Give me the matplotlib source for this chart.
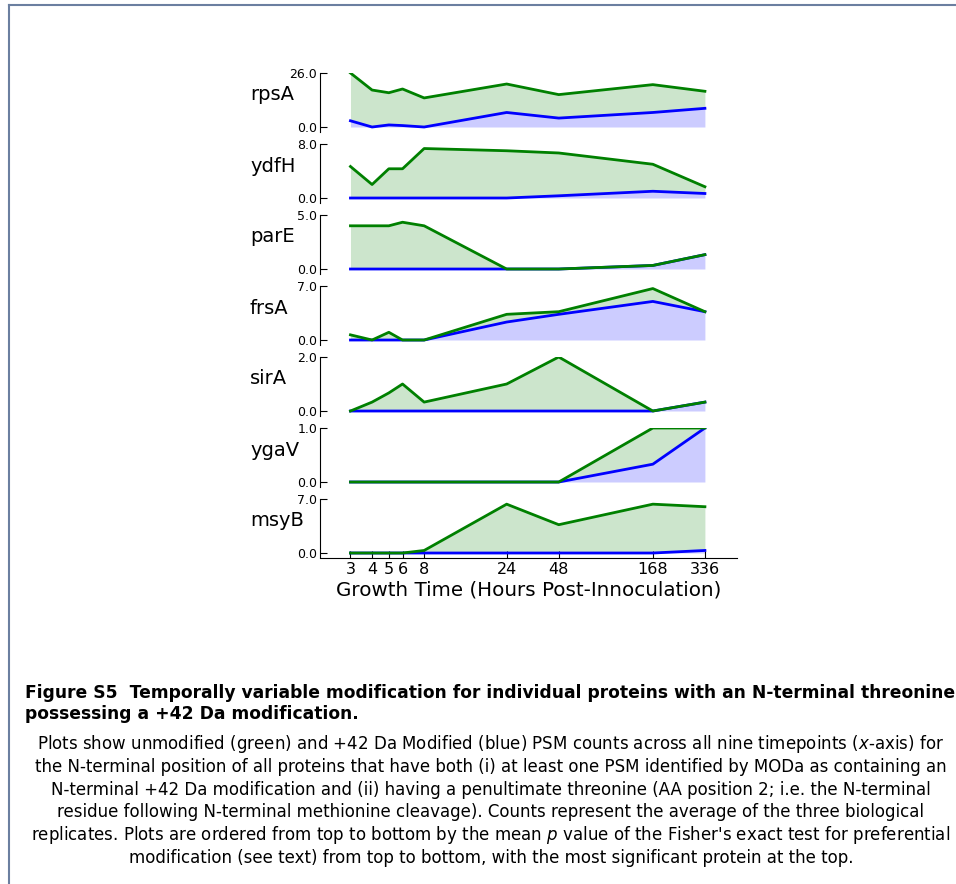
import numpy as np
import matplotlib
matplotlib.use('Agg')
from matplotlib import pyplot as plt
from matplotlib.lines import Line2D

# timepoints (hours post-innoculation)
hours = [3, 4, 5, 6, 8, 24, 48, 168, 336]
hour_labels = ['3', '4', '5', '6', '8', '24', '48', '168', '336']

proteins = ['rpsA', 'ydfH', 'parE', 'frsA', 'sirA', 'ygaV', 'msyB']
y_max = [26.0, 8.0, 5.0, 7.0, 2.0, 1.0, 7.0]

# unmodified (green) PSM counts
unmod_rpsA = [26.0, 17.8, 16.5, 18.3, 14.0, 20.7, 15.6, 20.4, 17.2]
unmod_ydfH = [4.67, 2.0, 4.33, 4.33, 7.33, 7.0, 6.67, 5.0, 1.67]
unmod_parE = [4.0, 4.0, 4.0, 4.33, 4.0, 0.0, 0.0, 0.33, 1.33]
unmod_frsA = [0.67, 0.0, 1.0, 0.0, 0.0, 3.33, 3.67, 6.67, 3.67]
unmod_sirA = [0.0, 0.33, 0.67, 1.0, 0.33, 1.0, 2.0, 0.0, 0.33]
unmod_ygaV = [0.0, 0.0, 0.0, 0.0, 0.0, 0.0, 0.0, 1.0, 1.0]
unmod_msyB = [0.0, 0.0, 0.0, 0.0, 0.33, 6.33, 3.67, 6.33, 6.0]

# +42 Da modified (blue) PSM counts
mod_rpsA = [3.0, 0.0, 1.0, 0.7, 0.0, 7.0, 4.3, 7.0, 9.0]
mod_ydfH = [0.0, 0.0, 0.0, 0.0, 0.0, 0.0, 0.33, 1.0, 0.67]
mod_parE = [0.0, 0.0, 0.0, 0.0, 0.0, 0.0, 0.0, 0.33, 1.33]
mod_frsA = [0.0, 0.0, 0.0, 0.0, 0.0, 2.33, 3.33, 5.0, 3.67]
mod_sirA = [0.0, 0.0, 0.0, 0.0, 0.0, 0.0, 0.0, 0.0, 0.33]
mod_ygaV = [0.0, 0.0, 0.0, 0.0, 0.0, 0.0, 0.0, 0.33, 1.0]
mod_msyB = [0.0, 0.0, 0.0, 0.0, 0.0, 0.0, 0.0, 0.0, 0.33]

unmodified = [unmod_rpsA, unmod_ydfH, unmod_parE, unmod_frsA, unmod_sirA, unmod_ygaV, unmod_msyB]
modified = [mod_rpsA, mod_ydfH, mod_parE, mod_frsA, mod_sirA, mod_ygaV, mod_msyB]

caption_bold = ['Figure S5  Temporally variable modification for individual proteins with an N-terminal threonine',
                'possessing a +42 Da modification.']
caption_body = ['Plots show unmodified (green) and +42 Da Modified (blue) PSM counts across all nine timepoints ($x$-axis) for',
                'the N-terminal position of all proteins that have both (i) at least one PSM identified by MODa as containing an',
                'N-terminal +42 Da modification and (ii) having a penultimate threonine (AA position 2; i.e. the N-terminal',
                'residue following N-terminal methionine cleavage). Counts represent the average of the three biological',
                "replicates. Plots are ordered from top to bottom by the mean $p$ value of the Fisher's exact test for preferential",
                'modification (see text) from top to bottom, with the most significant protein at the top.']


W, H = 956, 884
fig = plt.figure(figsize=(W / 100, H / 100), dpi=100)

ax_left = 320 / W
ax_width = (737 - 320) / W
ax_h = 58.5 / H

for i, name in enumerate(proteins):
	top = 73 + 71 * i
	ax = fig.add_axes([ax_left, 1 - (top + 58.5) / H, ax_width, ax_h])
	g = np.array(unmodified[i])
	b = np.array(modified[i])
	m = y_max[i]

	# green fill sits between the two series, blue fill under the modified one
	ax.fill_between(hours, b, g, color='green', alpha=0.2, linewidth=0)
	ax.fill_between(hours, 0, b, color='blue', alpha=0.2, linewidth=0)
	ax.plot(hours, b, color='blue', lw=2)
	ax.plot(hours, g, color='green', lw=2)

	ax.set_xscale('log')
	ax.set_xlim(2.0, 515)
	ax.set_ylim(-0.083 * m, m)
	ax.set_yticks([0, m])
	ax.set_yticklabels(['%.1f' % 0, '%.1f' % m], fontsize=9)
	ax.tick_params(axis='y', direction='in', length=5, pad=2)

	for s in ['top', 'right']:
		ax.spines[s].set_visible(False)

	ax.minorticks_off()
	if i == len(proteins) - 1:
		ax.set_xticks(hours)
		ax.set_xticklabels(hour_labels, fontsize=11.5)
		ax.tick_params(axis='x', direction='in', length=5, pad=3)
		ax.set_xlabel('Growth Time (Hours Post-Innoculation)', fontsize=14.3, labelpad=3)
	else:
		ax.spines['bottom'].set_visible(False)
		ax.set_xticks([])

	ax.patch.set_visible(False)
	fig.text(250 / W, 1 - (top + 22) / H, name, fontsize=14, ha='left', va='center')

# caption
fig.text(25 / W, 1 - 693 / H, caption_bold[0], fontsize=12.3, fontweight='bold',
	ha='left', va='center')
fig.text(25 / W, 1 - 714 / H, caption_bold[1], fontsize=12.3, fontweight='bold',
	ha='left', va='center')
for j, line in enumerate(caption_body):
	fig.text(491 / W, 1 - (744 + 22.8 * j) / H, line, fontsize=12,
		ha='center', va='center')

# page frame
fig.add_artist(Line2D([9 / W, 1], [1 - 5 / H, 1 - 5 / H], transform=fig.transFigure, color='#6b7fa0', lw=1.5))
fig.add_artist(Line2D([9 / W, 9 / W], [0, 1 - 5 / H], transform=fig.transFigure, color='#6b7fa0', lw=1.5))

fig.savefig('out.png', dpi=100)
